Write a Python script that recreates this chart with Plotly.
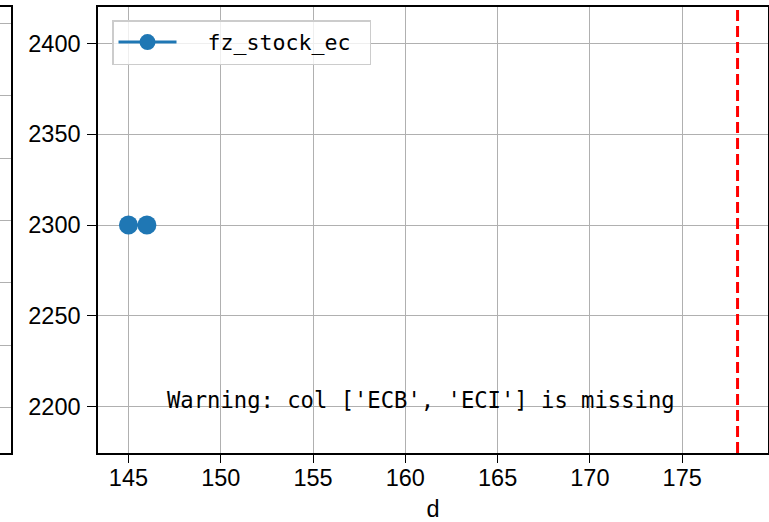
import plotly.graph_objects as go

# data
d_vals = [145, 146]
fz_stock_ec = [2300, 2300]
vline_x = 178
series_name = "fz_stock_ec"
warning_text = "Warning: col ['ECB', 'ECI'] is missing"
x_ticks = [145, 150, 155, 160, 165, 170, 175]
y_ticks = [2200, 2250, 2300, 2350, 2400]
x_range = [143.35, 179.65]
y_range = [2174.5, 2420]
# neighbouring (cropped) panel gridlines
left_panel_grid = [46, 108, 171, 233, 295, 358, 430]

W, H = 769, 522
ml, mr, mt, mb = 0, 1, 7, 69
pw = W - ml - mr
ph = H - mt - mb
main_left = 98 / pw
left_panel_right = 10.7 / pw

tick_font = dict(family="Liberation Sans, Arial, sans-serif", size=23.5, color="black")
mono = "DejaVu Sans Mono, Liberation Mono, monospace"
nbsp = "\u00a0"

fig = go.Figure()
fig.add_trace(go.Scatter(
    x=d_vals, y=fz_stock_ec, mode="lines+markers", name=nbsp * 2 + series_name + nbsp,
    line=dict(color="#1f77b4", width=3),
    marker=dict(color="#1f77b4", size=19),
    xaxis="x", yaxis="y",
))
# empty trace so that the neighbouring cropped panel is drawn
fig.add_trace(go.Scatter(x=[None], y=[None], xaxis="x2", yaxis="y2",
                         showlegend=False, hoverinfo="skip"))

fig.add_vline(x=vline_x, line=dict(color="red", width=3, dash="11px,5px"))

fig.add_annotation(
    text=warning_text, xref="x domain", yref="y domain", x=0.1, y=0.085,
    xanchor="left", yanchor="bottom", showarrow=False,
    font=dict(family=mono, size=22.2, color="black"),
)

axis_common = dict(
    showline=True, linecolor="black", linewidth=1.5, mirror=True,
    showgrid=True, gridcolor="#b0b0b0", gridwidth=1.2,
    ticks="outside", tickwidth=1.3, tickcolor="black",
    zeroline=False, tickfont=tick_font, automargin=False,
)

fig.update_layout(
    width=W, height=H,
    margin=dict(l=ml, r=mr, t=mt, b=mb, autoexpand=False),
    paper_bgcolor="white", plot_bgcolor="white",
    xaxis=dict(domain=[main_left, 1], range=x_range, tickvals=x_ticks,
               ticklen=8, ticklabelstandoff=-5,
               title=dict(text="d", font=tick_font, standoff=19), **axis_common),
    yaxis=dict(range=y_range, tickvals=y_ticks, ticklen=9, ticklabelstandoff=2,
               **axis_common),
    xaxis2=dict(domain=[0, left_panel_right], range=[0, 1], showline=True, mirror=True,
                linecolor="black", linewidth=1.5, showgrid=False, zeroline=False,
                showticklabels=False, ticks="", anchor="y2", automargin=False),
    yaxis2=dict(range=[0, 446], tickvals=left_panel_grid, showticklabels=False,
                showgrid=True, gridcolor="#b0b0b0", gridwidth=1.2, zeroline=False,
                showline=True, linecolor="black", linewidth=1.5, side="right",
                anchor="x2", ticks="", automargin=False),
    showlegend=True,
    legend=dict(x=(112 - ml) / pw, y=1 - (20 - mt) / ph,
                xanchor="left", yanchor="top",
                bgcolor="rgba(255,255,255,0.8)", bordercolor="#cccccc", borderwidth=1.5,
                font=dict(family=mono, size=21.6, color="black"),
                itemwidth=58, tracegroupgap=0),
)

fig.write_html("out.html", config={"displayModeBar": False},
               post_script="document.body.style.margin='0px';")
